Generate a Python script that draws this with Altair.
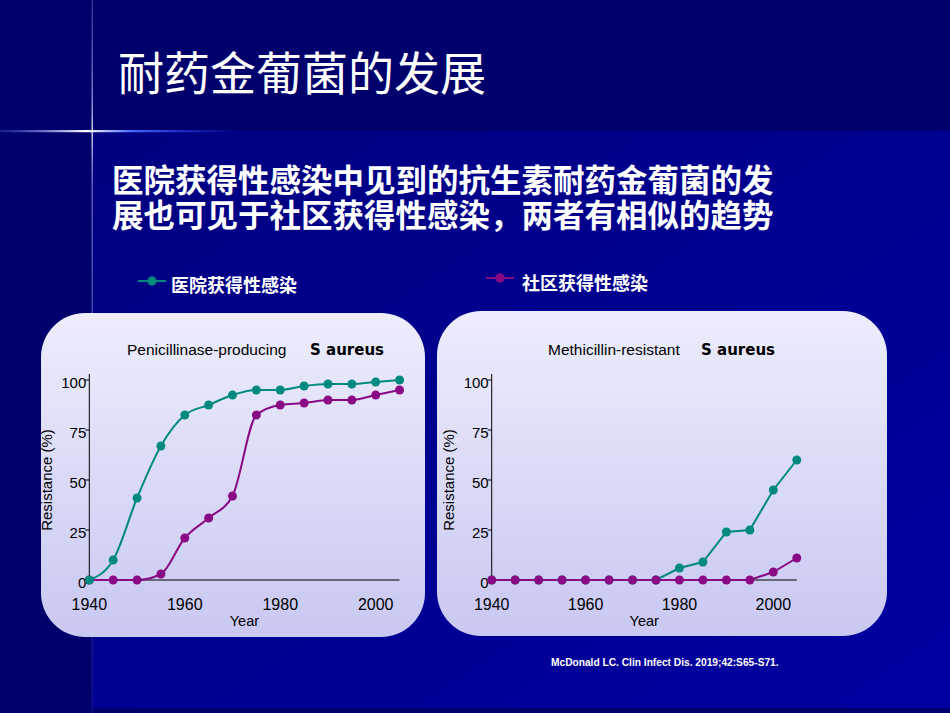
import altair as alt
import pandas as pd

# ---------------- data ----------------
years = [1940, 1945, 1950, 1955, 1960, 1965, 1970, 1975, 1980, 1985, 1990, 1995, 2000, 2005]
series_names = ["医院获得性感染", "社区获得性感染"]
series_colors = ["#00897E", "#8A0A86"]

pen_hospital = [0, 10, 41, 67, 82.5, 87.5, 92.5, 95, 95, 97, 98, 98, 99, 100]
pen_community = [0, 0, 0, 3, 21, 31, 42, 82.5, 87.5, 88.5, 90, 90, 92.5, 95]
mrsa_hospital = [0, 0, 0, 0, 0, 0, 0, 0, 6, 9, 24, 25, 45, 60]
mrsa_community = [0, 0, 0, 0, 0, 0, 0, 0, 0, 0, 0, 0, 4, 11]

x_ticks = [1940, 1960, 1980, 2000]
y_ticks = [0, 25, 50, 75, 100]
y_minor = [25, 50, 75, 100]

panel_titles = ["Penicillinase-producing", "Methicillin-resistant"]
organism = "S aureus"
x_title = "Year"
y_title = "Resistance (%)"

main_title = "耐药金葡菌的发展"
subtitle_lines = ["医院获得性感染中见到的抗生素耐药金葡菌的发",
                  "展也可见于社区获得性感染，两者有相似的趋势"]
source_text = "McDonald LC. Clin Infect Dis. 2019;42:S65-S71."

# ---------------- helpers ----------------
W, H = 950, 713
one = pd.DataFrame({"k": [0]})
CJK = "Noto Sans CJK SC"
SANS = "Liberation Sans, Arial, sans-serif"


def grad(stops, x1=0, y1=0, x2=0, y2=1):
    return alt.LinearGradient(
        gradient="linear",
        stops=[alt.GradientStop(color=c, offset=o) for o, c in stops],
        x1=x1, y1=y1, x2=x2, y2=y2,
    )


def rect(x, x2, y, y2, fill, **kw):
    return alt.Chart(one).mark_rect(fill=fill, **kw).encode(
        x=alt.value(x), x2=alt.value(x2), y=alt.value(y), y2=alt.value(y2)
    )


def text(t, x, y, size, color="white", font=CJK, weight="normal", align="left", **kw):
    return alt.Chart(pd.DataFrame({"t": [t]})).mark_text(
        align=align, baseline="middle", fontSize=size, font=font,
        fontWeight=weight, color=color, **kw
    ).encode(x=alt.value(x), y=alt.value(y), text="t:N")


box_fill = grad([(0, "#EDEDFD"), (1, "#C8C8F2")])


def panel(h_vals, c_vals, xdom, ydom, interp, top_first, box, t1x, t2x, ytx):
    xs = alt.Scale(domain=xdom, nice=False, zero=False)
    ys = alt.Scale(domain=ydom, nice=False, zero=False)
    layers = [rect(box[0], box[1], box[2], box[3], box_fill, cornerRadius=44)]

    def base(vals):
        df = pd.DataFrame({"year": years, "rate": vals})
        return alt.Chart(df).encode(
            x=alt.X("year:Q", scale=xs, axis=None),
            y=alt.Y("rate:Q", scale=ys, axis=None),
        )

    # axes
    layers.append(alt.Chart(one).mark_rule(color="black", strokeWidth=1).encode(
        x=alt.XDatum(years[0], scale=xs, axis=None),
        y=alt.YDatum(0, scale=ys, axis=None), y2=alt.datum(103)))
    layers.append(alt.Chart(one).mark_rule(color="black", strokeWidth=1).encode(
        x=alt.XDatum(years[0], scale=xs, axis=None), x2=alt.datum(years[-1]),
        y=alt.YDatum(0, scale=ys, axis=None)))
    layers.append(alt.Chart(pd.DataFrame({"v": y_minor})).mark_rule(color="black", strokeWidth=1).encode(
        x=alt.XDatum(years[0], scale=xs, axis=None), x2=alt.datum(years[0] - 0.9),
        y=alt.Y("v:Q", scale=ys, axis=None)))
    layers.append(alt.Chart(pd.DataFrame({"v": y_ticks})).mark_text(
        align="right", baseline="middle", dx=-3, dy=3, fontSize=15, font=SANS, color="black").encode(
        x=alt.XDatum(years[0], scale=xs, axis=None),
        y=alt.Y("v:Q", scale=ys, axis=None), text=alt.Text("v:Q", format="d")))
    layers.append(alt.Chart(pd.DataFrame({"v": x_ticks})).mark_text(
        align="center", baseline="middle", dy=25, fontSize=16, font=SANS, color="black").encode(
        x=alt.X("v:Q", scale=xs, axis=None),
        y=alt.YDatum(0, scale=ys, axis=None), text=alt.Text("v:Q", format="d")))
    layers.append(alt.Chart(pd.DataFrame({"t": [x_title]})).mark_text(
        align="center", baseline="middle", dy=42, fontSize=14.5, font=SANS, color="black").encode(
        x=alt.XDatum((years[0] + years[-1]) / 2, scale=xs, axis=None),
        y=alt.YDatum(0, scale=ys, axis=None), text="t:N"))
    layers.append(alt.Chart(pd.DataFrame({"t": [y_title]})).mark_text(
        align="center", baseline="middle", angle=270, fontSize=15, font=SANS, color="black").encode(
        x=alt.value(ytx), y=alt.YDatum(50, scale=ys, axis=None), text="t:N"))

    # data
    h_base, c_base = base(h_vals), base(c_vals)
    h_line = h_base.mark_line(interpolate=interp, color=series_colors[0], strokeWidth=2)
    c_line = c_base.mark_line(interpolate=interp, color=series_colors[1], strokeWidth=2)
    h_pt = h_base.mark_circle(size=80, color=series_colors[0], opacity=1)
    c_pt = c_base.mark_circle(size=80, color=series_colors[1], opacity=1)
    if top_first:
        layers += [c_line, h_line, c_pt, h_pt]
    else:
        layers += [h_line, c_line, h_pt, c_pt]

    # panel title
    layers.append(text(t1x[0], t1x[1], 350, 15.5, color="black", font=SANS))
    layers.append(text(organism, t2x, 350, 15, color="black", font="DejaVu Sans", weight="bold"))
    return alt.layer(*layers)


left = panel(pen_hospital, pen_community, [1921.29, 2120.32], [-66.5, 290],
             "monotone", True, (41, 425, 313, 637),
             (panel_titles[0], 127), 310, 47)
right = panel(mrsa_hospital, mrsa_community, [1835.23, 2037.65], [-66.5, 290],
              "linear", False, (437, 887, 311, 636),
              (panel_titles[1], 548), 701, 449)

# ---------------- background ----------------
bg = [
    rect(92, W, 131, 708, grad([(0, "#000080"), (1, "#0000A2")], x1=0, y1=0, x2=1, y2=1)),
    rect(0, 240, 130, 132.2, grad([(0, "rgba(90,110,255,0.25)"), (0.36, "#FFFFFF"),
                                 (0.55, "#4466FF"), (1, "rgba(40,60,255,0)")], x1=0, y1=0, x2=1, y2=0)),
    rect(91.6, 92.8, 0, H, grad([(0, "rgba(120,120,220,0.45)"), (0.14, "rgba(200,200,255,0.8)"),
                                 (0.184, "#FFFFFF"), (0.26, "rgba(160,160,240,0.7)"),
                                 (1, "rgba(80,80,200,0.25)")])),
]

header = [text(main_title, 118, 76, 46)]
header.append(text("\n".join(subtitle_lines), 112, 183, 31.5, weight="bold",
                   lineBreak="\n", lineHeight=35))

# legend
leg = []
leg_pos = [(138, 281, 171, 287), (486, 278, 522, 285)]
for name, col, (lx, ly, tx, ty) in zip(series_names, series_colors, leg_pos):
    leg.append(alt.Chart(one).mark_rule(color=col, strokeWidth=2).encode(
        x=alt.value(lx), x2=alt.value(lx + 28), y=alt.value(ly)))
    leg.append(alt.Chart(one).mark_circle(color=col, size=90, opacity=1).encode(
        x=alt.value(lx + 14), y=alt.value(ly)))
    leg.append(text(name, tx, ty, 18, weight="bold"))

footer = [text(source_text, 551, 663, 10.2, font=SANS, weight="bold")]

chart = alt.layer(*bg, *header, *leg, left, right, *footer).resolve_scale(
    x="independent", y="independent"
).properties(
    width=W, height=H, autosize=alt.AutoSizeParams(type="none"), padding=0,
    background="#00006C",
).configure_view(stroke=None)

chart.save("out.html", embed_options={"renderer": "svg", "actions": False})
